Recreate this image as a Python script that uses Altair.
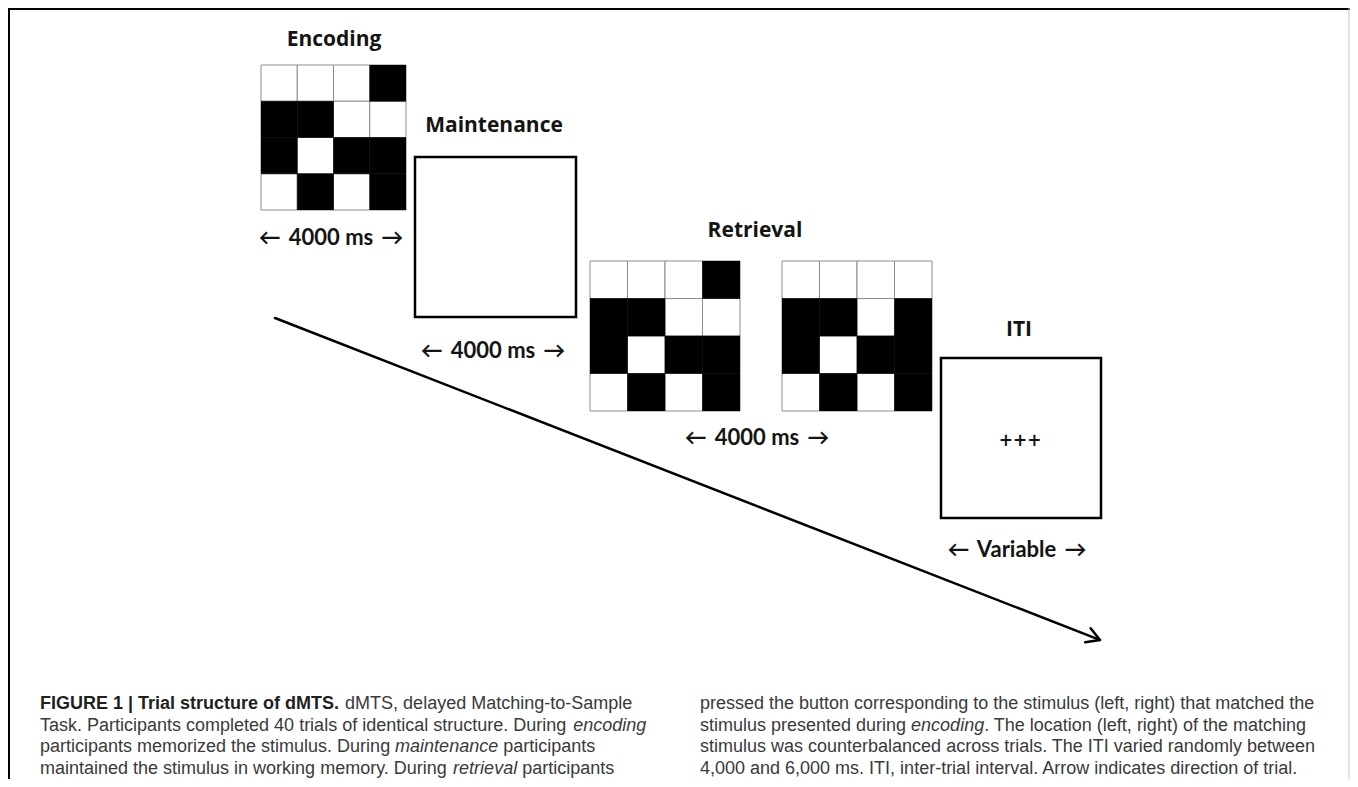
import math
import altair as alt
import pandas as pd

# ---------------- content ----------------
phase_titles = ["Encoding", "Maintenance", "Retrieval", "ITI"]
duration_labels = ["\u2190\u2009 4000 ms \u2009\u2192", "\u2190\u2009 4000 ms \u2009\u2192",
                   "\u2190\u2009 4000 ms \u2009\u2192", "\u2190\u2009 Variable \u2009\u2192"]
fixation_label = ["+++"]

# stimulus patterns (1 = black cell, 0 = white cell), rows top to bottom
encoding_pattern = [[0, 0, 0, 1],
                    [1, 1, 0, 0],
                    [1, 0, 1, 1],
                    [0, 1, 0, 1]]
retrieval_left_pattern = [[0, 0, 0, 1],
                          [1, 1, 0, 0],
                          [1, 0, 1, 1],
                          [0, 1, 0, 1]]
retrieval_right_pattern = [[0, 0, 0, 0],
                           [1, 1, 0, 1],
                           [1, 0, 1, 1],
                           [0, 1, 0, 1]]

# caption: list of lines, each line a list of (style, text)
caption_left = [
    [("b", "FIGURE 1 | Trial structure of dMTS."), ("r", " dMTS, delayed Matching-to-Sample")],
    [("r", "Task. Participants completed 40 trials of identical structure. During "), ("i", "encoding")],
    [("r", "participants memorized the stimulus. During "), ("i", "maintenance"), ("r", " participants")],
    [("r", "maintained the stimulus in working memory. During "), ("i", "retrieval"), ("r", " participants")],
]
caption_right = [
    [("r", "pressed the button corresponding to the stimulus (left, right) that matched the")],
    [("r", "stimulus presented during "), ("i", "encoding"), ("r", ". The location (left, right) of the matching")],
    [("r", "stimulus was counterbalanced across trials. The ITI varied randomly between")],
    [("r", "4,000 and 6,000 ms. ITI, inter-trial interval. Arrow indicates direction of trial.")],
]

# ---------------- layout (screen pixels) ----------------
W, H = 1342, 771
OX, OY = 8, 8
xs = alt.Scale(domain=[OX, OX + W], nice=False, zero=False)
ys = alt.Scale(domain=[OY, OY + H], nice=False, zero=False, reverse=True)

grid_layout = [("enc", encoding_pattern, 261, 65, 145),
               ("retL", retrieval_left_pattern, 590, 261, 150),
               ("retR", retrieval_right_pattern, 782, 261, 150)]
box_layout = [(415, 157, 576, 317), (941, 358, 1101, 518)]
title_pos = [(334, 46), (494, 132), (755, 237), (1019, 336)]
duration_pos = [(331, 245), (493, 358), (757, 445), (1017, 557)]
fixation_pos = [(1020, 441)]
arrow_start, arrow_tip = (275, 318), (1100, 640)

CAP_FS = 18
CAP_LH = 21.5
cap_left_x, cap_right_x = 40, 700
cap_base_y = 709

# Arial / Liberation Sans advance widths (per 1000 em)
REG = dict(zip("ABCDEFGHIJKLMNOPQRSTUVWXYZ",
               [667, 667, 722, 722, 667, 611, 778, 722, 278, 500, 667, 556, 833, 722, 778, 667, 778, 722, 667, 611, 722, 667, 944, 667, 667, 611]))
REG.update(zip("abcdefghijklmnopqrstuvwxyz",
               [556, 556, 500, 556, 556, 278, 556, 556, 222, 222, 500, 222, 833, 556, 556, 556, 556, 333, 500, 278, 556, 500, 722, 500, 500, 500]))
BOLD = dict(zip("ABCDEFGHIJKLMNOPQRSTUVWXYZ",
                [722, 722, 722, 722, 667, 611, 778, 722, 278, 556, 722, 611, 833, 722, 778, 667, 778, 722, 667, 611, 722, 667, 944, 667, 667, 611]))
BOLD.update(zip("abcdefghijklmnopqrstuvwxyz",
                [556, 611, 556, 611, 556, 333, 611, 611, 278, 278, 556, 278, 889, 611, 611, 611, 611, 389, 556, 333, 611, 556, 778, 556, 556, 500]))
COMMON = {" ": 278, ",": 278, ".": 278, "-": 333, "(": 333, ")": 333, ":": 278, ";": 278}
COMMON.update({d: 556 for d in "0123456789"})


def text_width(s, style):
    table = BOLD if style == "b" else REG
    tot = 0
    for ch in s:
        if ch == "|":
            tot += 280 if style == "b" else 260
        else:
            tot += table.get(ch, COMMON.get(ch, 556))
    return tot * CAP_FS / 1000.0


# ---------------- tables ----------------
cells = []
for name, pat, gx, gy, size in grid_layout:
    s = size / 4.0
    for r, row in enumerate(pat):
        for c, v in enumerate(row):
            cells.append({"grid": name, "x": gx + c * s, "x2": gx + (c + 1) * s,
                          "y": gy + r * s, "y2": gy + (r + 1) * s, "v": v})
cells = pd.DataFrame(cells)

boxes = pd.DataFrame([{"x": a, "y": b, "x2": c, "y2": d} for a, b, c, d in box_layout])
titles = pd.DataFrame([{"x": p[0], "y": p[1], "text": t} for p, t in zip(title_pos, phase_titles)])
durations = pd.DataFrame([{"x": p[0], "y": p[1], "text": t} for p, t in zip(duration_pos, duration_labels)])
fix = pd.DataFrame([{"x": p[0], "y": p[1], "text": t} for p, t in zip(fixation_pos, fixation_label)])

# time arrow: shaft + open head
dx, dy = arrow_tip[0] - arrow_start[0], arrow_tip[1] - arrow_start[1]
L = math.hypot(dx, dy)
ux, uy = dx / L, dy / L
segs = [{"x": arrow_start[0], "y": arrow_start[1], "x2": arrow_tip[0] - ux, "y2": arrow_tip[1] - uy}]
HL, ang = 15, math.radians(30)
for sgn in (1, -1):
    ca, sa = math.cos(sgn * ang), math.sin(sgn * ang)
    wx, wy = ux * ca - uy * sa, ux * sa + uy * ca
    segs.append({"x": arrow_tip[0], "y": arrow_tip[1], "x2": arrow_tip[0] - HL * wx, "y2": arrow_tip[1] - HL * wy})
arrow = pd.DataFrame(segs)

frame = pd.DataFrame([
    {"x": OX, "y": OY + 1, "x2": OX + W, "y2": OY + 1, "c": "#000000", "w": 2},
    {"x": OX + 1, "y": OY, "x2": OX + 1, "y2": OY + H, "c": "#000000", "w": 2},
    {"x": OX + W - 1, "y": OY, "x2": OX + W - 1, "y2": OY + H, "c": "#c8c8c8", "w": 1},
])

cap_rows = []
for colx, lines in ((cap_left_x, caption_left), (cap_right_x, caption_right)):
    for li, line in enumerate(lines):
        cx = colx
        for style, txt in line:
            lead = len(txt) - len(txt.lstrip(" "))
            cx += text_width(" " * lead, style)
            body = txt.strip(" ")
            cap_rows.append({"x": cx, "y": cap_base_y + li * CAP_LH, "text": body, "style": style})
            cx += text_width(txt.lstrip(" "), style)
cap = pd.DataFrame(cap_rows)


def X(f="x"):
    return alt.X(f + ":Q", scale=xs, axis=None)


def Y(f="y"):
    return alt.Y(f + ":Q", scale=ys, axis=None)


base_rect = dict(x=X(), x2="x2:Q", y=Y(), y2="y2:Q")

white_cells = alt.Chart(cells).transform_filter("datum.v == 0").mark_rect(
    fill="white", stroke="#8c8c8c", strokeWidth=1).encode(**base_rect)
black_cells = alt.Chart(cells).transform_filter("datum.v == 1").mark_rect(
    fill="black", stroke="black", strokeWidth=0.5).encode(**base_rect)
box_layer = alt.Chart(boxes).mark_rect(fill="white", stroke="black", strokeWidth=2.5).encode(**base_rect)

title_layer = alt.Chart(titles).mark_text(font="Open Sans", fontWeight="bold", fontSize=21,
                                          align="center", baseline="alphabetic", color="#141414").encode(
    x=X(), y=Y(), text="text:N")
dur_layer = alt.Chart(durations).mark_text(font="Lato, DejaVu Sans", fontWeight="bold", fontSize=22,
                                           align="center", baseline="alphabetic", color="#141414").encode(
    x=X(), y=Y(), text="text:N")
fix_layer = alt.Chart(fix).mark_text(font="DejaVu Sans", fontWeight="bold", fontSize=17,
                                     align="center", baseline="middle", color="#141414").encode(
    x=X(), y=Y(), text="text:N")

arrow_layer = alt.Chart(arrow).mark_rule(color="black", strokeWidth=2.5, strokeCap="round").encode(
    x=X(), y=Y(), x2="x2:Q", y2="y2:Q")
frame_layer = alt.Chart(frame).mark_rule().encode(
    x=X(), y=Y(), x2="x2:Q", y2="y2:Q", color=alt.Color("c:N", scale=None),
    strokeWidth=alt.StrokeWidth("w:Q", scale=None))

cap_b = alt.Chart(cap).transform_filter("datum.style == 'b'").mark_text(
    font="Liberation Sans", fontWeight="bold", fontSize=CAP_FS, align="left", baseline="alphabetic",
    color="#1f1f1f").encode(x=X(), y=Y(), text="text:N")
cap_r = alt.Chart(cap).transform_filter("datum.style == 'r'").mark_text(
    font="Liberation Sans", fontSize=CAP_FS, align="left", baseline="alphabetic",
    color="#3a3a3a").encode(x=X(), y=Y(), text="text:N")
cap_i = alt.Chart(cap).transform_filter("datum.style == 'i'").mark_text(
    font="Liberation Sans", fontStyle="italic", fontSize=CAP_FS, align="left", baseline="alphabetic",
    color="#3a3a3a").encode(x=X(), y=Y(), text="text:N")

chart = alt.layer(
    frame_layer, arrow_layer, box_layer, white_cells, black_cells,
    title_layer, dur_layer, fix_layer, cap_b, cap_r, cap_i
).properties(
    width=W, height=H, padding=0, autosize=alt.AutoSizeParams(type="none")
).configure_view(stroke=None)

chart.save("out.html", embed_options={"renderer": "svg", "actions": False})
